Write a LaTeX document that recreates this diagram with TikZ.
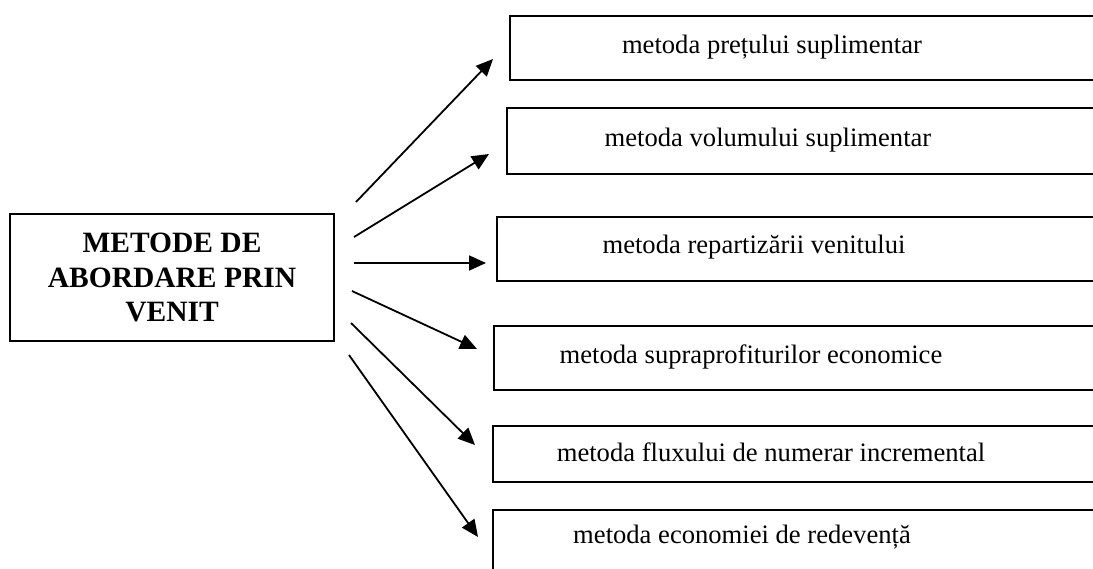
\documentclass[tikz,border=0pt]{standalone}
\usepackage{fontspec}
\setmainfont{Liberation Serif}
\usetikzlibrary{arrows.meta}
\begin{document}
\begin{tikzpicture}[x=1pt,y=-1pt,
  mainbox/.style={draw, line width=2pt, minimum width=324pt, minimum height=127pt,
    inner sep=0pt, align=center, font=\fontsize{29.5}{34.5}\selectfont\bfseries},
  methodbox/.style={draw, line width=2pt, minimum width=700pt, anchor=north west, inner sep=0pt},
  methodtext/.style={anchor=base, inner sep=0pt, font=\fontsize{26.6}{30}\selectfont},
  link/.style={line width=1.8pt, -{Triangle[length=17pt,width=15pt]}}]
\useasboundingbox (0,0) rectangle (1093,568);
\clip (0,0) rectangle (1093,568);

% central box
\node[mainbox] (src) at (172,277.5) {METODE DE\\ABORDARE PRIN\\VENIT};

% method boxes (they run past the right edge)
\node[methodbox, minimum height=64pt] (b1) at (509,15) {};
\node[methodbox, minimum height=66pt] (b2) at (506,107) {};
\node[methodbox, minimum height=64pt] (b3) at (496,216) {};
\node[methodbox, minimum height=64pt] (b4) at (493,325) {};
\node[methodbox, minimum height=56pt] (b5) at (492,425) {};
\node[methodbox, minimum height=80pt] (b6) at (492,509) {};

% method labels
\node[methodtext] (l1) at (772,53) {metoda prețului suplimentar};
\node[methodtext] (l2) at (768,146) {metoda volumului suplimentar};
\node[methodtext] (l3) at (754,253.5) {metoda repartizării venitului};
\node[methodtext] (l4) at (751,363) {metoda supraprofiturilor economice};
\node[methodtext] (l5) at (771,461) {metoda fluxului de numerar incremental};
\node[methodtext] (l6) at (742,543) {metoda economiei de redevență};

% arrow end points
\coordinate (s1) at (356,202); \coordinate (t1) at (493,59);
\coordinate (s2) at (354,237); \coordinate (t2) at (489,154);
\coordinate (s3) at (354,263); \coordinate (t3) at (486,263);
\coordinate (s4) at (352,291); \coordinate (t4) at (477,349);
\coordinate (s5) at (351,323); \coordinate (t5) at (475,445);
\coordinate (s6) at (349,355); \coordinate (t6) at (478,537);

\foreach \i in {1,...,6} {\draw[link] (s\i) -- (t\i);}
\end{tikzpicture}
\end{document}
